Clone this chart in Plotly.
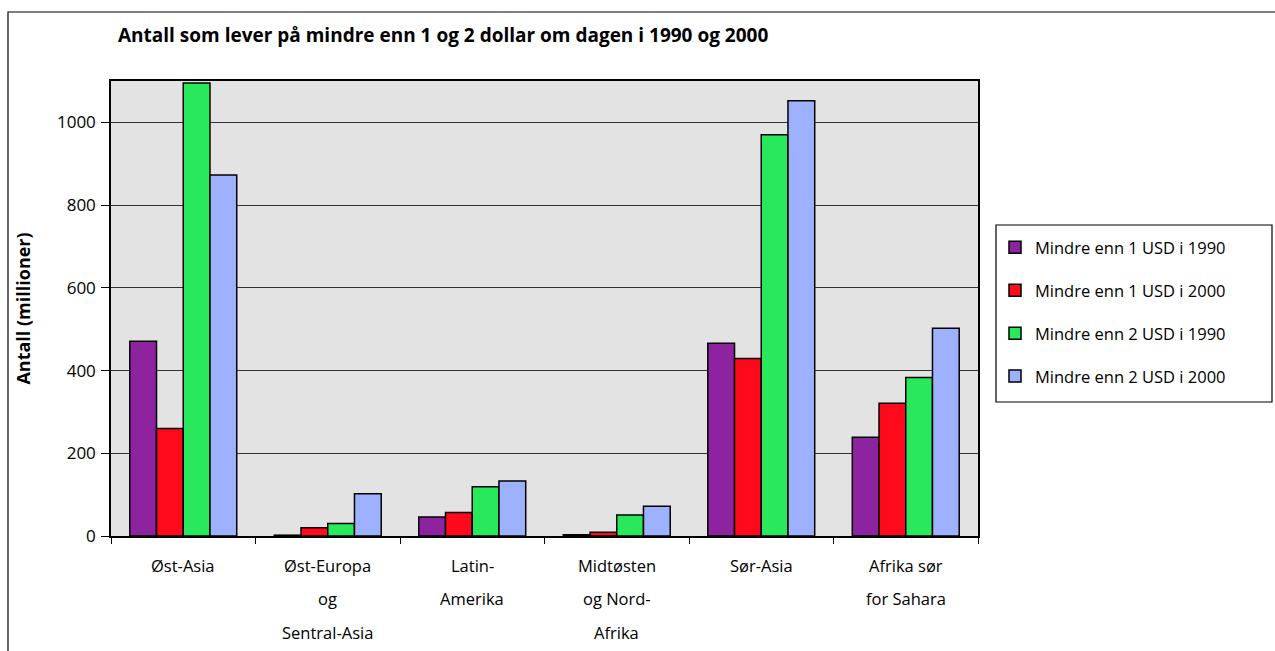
import plotly.graph_objects as go

categories = ["Øst-Asia", "Øst-Europa\nog\nSentral-Asia", "Latin-\nAmerika",
              "Midtøsten\nog Nord-\nAfrika", "Sør-Asia", "Afrika sør\nfor Sahara"]
series_names = ["Mindre enn 1 USD i 1990", "Mindre enn 1 USD i 2000",
                "Mindre enn 2 USD i 1990", "Mindre enn 2 USD i 2000"]
usd1_1990 = [471, 2, 46, 3, 466, 239]
usd1_2000 = [260, 20, 57, 9, 429, 321]
usd2_1990 = [1095, 30, 119, 51, 970, 383]
usd2_2000 = [873, 102, 133, 72, 1052, 502]
colors = ["#8e23a0", "#ff0a1a", "#2ae85c", "#9eb1ff"]
y_ticks = [0, 200, 400, 600, 800, 1000]

W, H = 1275, 651
L, R, T, B = 111, 978, 81, 536
FONT = "Open Sans"

fig = go.Figure()
for name, vals, col in zip(series_names, [usd1_1990, usd1_2000, usd2_1990, usd2_2000], colors):
    fig.add_trace(go.Bar(
        x=categories, y=vals, name=name, legendgroup=name,
        marker=dict(color=col, line=dict(color="black", width=1.5)),
    ))

def px_x(p):
    return (p - L) / (R - L)

def px_y(p):
    return (B - p) / (B - T)

annotations = []
for cat in categories:
    for i, line in enumerate(cat.split("\n")):
        annotations.append(dict(
            x=cat, xref="x", y=0, yref="paper", text=line, showarrow=False,
            yanchor="middle", yshift=-29 - 33.5 * i,
            font=dict(family=FONT, size=16.5, color="black"),
        ))

shapes = [
    dict(type="rect", xref="paper", yref="paper",
         x0=px_x(8), x1=px_x(1290), y0=px_y(12), y1=px_y(670),
         line=dict(color="black", width=1.2), fillcolor="rgba(0,0,0,0)", layer="below"),
    dict(type="rect", xref="paper", yref="paper",
         x0=px_x(996), x1=px_x(1272), y0=px_y(225), y1=px_y(402),
         line=dict(color="black", width=1.2), fillcolor="white", layer="below"),
]

fig.update_layout(
    width=W, height=H,
    margin=dict(l=L, r=W - R, t=T, b=H - B, autoexpand=False),
    paper_bgcolor="white", plot_bgcolor="#e3e3e3",
    font=dict(family=FONT, size=16, color="black"),
    barmode="group", bargap=0.26, bargroupgap=0,
    title=dict(text="<b>Antall som lever på mindre enn 1 og 2 dollar om dagen i 1990 og 2000</b>",
               x=px_x(118), xref="paper", xanchor="left", y=1 - 35 / H, yref="container",
               yanchor="middle", font=dict(family=FONT, size=19, color="black")),
    xaxis=dict(type="category", showticklabels=False, ticks="outside", tickson="boundaries",
               ticklen=6, tickcolor="black", showline=True, linecolor="black", linewidth=1.5,
               mirror=True, showgrid=False),
    yaxis=dict(range=[0, 1100], tickvals=y_ticks, ticks="outside", ticklen=8, tickcolor="black",
               showline=True, linecolor="black", linewidth=1.5, mirror=True,
               showgrid=True, gridcolor="#333333", gridwidth=1.4, zeroline=False,
               tickfont=dict(family=FONT, size=17), ticklabelstandoff=2,
               title=dict(text="<b>Antall (millioner)</b>", standoff=22,
                          font=dict(family=FONT, size=18))),
    legend=dict(x=px_x(995), y=px_y(230), xanchor="left", yanchor="top",
                bgcolor="rgba(0,0,0,0)", borderwidth=0, tracegroupgap=18.5,
                traceorder="grouped", font=dict(family=FONT, size=16.5)),
    annotations=annotations, shapes=shapes,
)

fig.write_html("out.html", config={"displayModeBar": False},
               post_script="document.body.style.margin='0';")
